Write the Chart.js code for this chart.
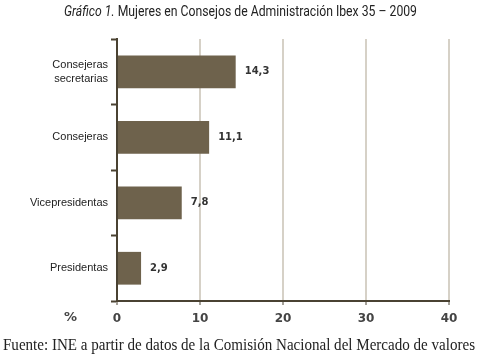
<!DOCTYPE html>
<html>
<head>
<meta charset="utf-8">
<script src="https://cdn.jsdelivr.net/npm/chart.js@4"></script>
<style>
  body { margin: 0; background: #fff; }
  .wrap { position: relative; width: 479px; height: 356px; }
  .title {
    position: absolute; left: 64px; top: 3px; white-space: nowrap; transform-origin: 0 0;
    font: 14px "Roboto", sans-serif; color: #222;
  }
  .pct {
    position: absolute; left: 64px; top: 309px;
    font: bold 13px "DejaVu Sans", sans-serif; color: #444;
  }
  .source {
    position: absolute; left: 3px; top: 336px; white-space: nowrap; transform-origin: 0 0;
    font: 16px "Liberation Serif", serif; color: #222;
  }
</style>
</head>
<body>
<div class="wrap">
  <canvas id="c" width="479" height="356"></canvas>
  <div class="title" data-w="353"><i>Gráfico 1.</i> Mujeres en Consejos de Administración Ibex 35 – 2009</div>
  <div class="pct">%</div>
  <div class="source" data-w="472">Fuente: INE a partir de datos de la Comisión Nacional del Mercado de valores</div>
</div>
<script>
const categories = [["Consejeras", "secretarias"], "Consejeras", "Vicepresidentas", "Presidentas"];
const values = [14.3, 11.1, 7.8, 2.9];
const xTicks = [0, 10, 20, 30, 40];

const barColor = '#6e624c';
const axisColor = '#4a4232';

// squeeze the condensed texts to the width they have in the picture
document.querySelectorAll('[data-w]').forEach(el => {
    const k = el.dataset.w / el.getBoundingClientRect().width;
    el.style.transform = `scaleX(${k})`;
});

// value labels to the right of each bar
const valueLabels = {
    id: 'valueLabels',
    afterDatasetsDraw(chart) {
        const ctx = chart.ctx;
        const meta = chart.getDatasetMeta(0);
        ctx.save();
        ctx.font = 'bold 10px "DejaVu Sans", sans-serif';
        ctx.fillStyle = '#333';
        ctx.textBaseline = 'middle';
        meta.data.forEach((bar, i) => {
            ctx.fillText(values[i].toFixed(1).replace('.', ','), bar.x + 9, bar.y);
        });
        ctx.restore();
    }
};

new Chart(document.getElementById('c'), {
    type: 'bar',
    data: {
        labels: categories,
        datasets: [{
            data: values,
            backgroundColor: barColor,
            barPercentage: 0.5,
            categoryPercentage: 1
        }]
    },
    plugins: [valueLabels],
    options: {
        indexAxis: 'y',
        responsive: false,
        animation: false,
        layout: {padding: {top: 39, right: 30, bottom: 31, left: 0}},
        plugins: {legend: {display: false}, tooltip: {enabled: false}},
        scales: {
            x: {
                min: 0, max: 40,
                afterBuildTicks: scale => { scale.ticks = xTicks.map(v => ({value: v})); },
                afterFit: scale => { scale.height = 24; },
                grid: {
                    color: ctx => ctx.tick && ctx.tick.value === 0 ? 'rgba(0,0,0,0)' : '#d6d1c7',
                    lineWidth: 2,
                    tickColor: axisColor,
                    tickLength: 4,
                    tickWidth: 1
                },
                border: {color: axisColor, width: 2},
                ticks: {
                    color: '#444',
                    padding: 7,
                    font: {family: 'DejaVu Sans', size: 12, weight: 'bold'}
                }
            },
            y: {
                afterFit: scale => { scale.width = 117; },
                grid: {
                    offset: true,
                    drawOnChartArea: false,
                    tickColor: axisColor,
                    tickLength: 6,
                    tickWidth: 2
                },
                border: {color: axisColor, width: 2},
                ticks: {
                    color: '#222',
                    padding: 3,
                    font: {family: 'Liberation Sans', size: 11, lineHeight: 1.25}
                }
            }
        }
    }
});
</script>
</body>
</html>
